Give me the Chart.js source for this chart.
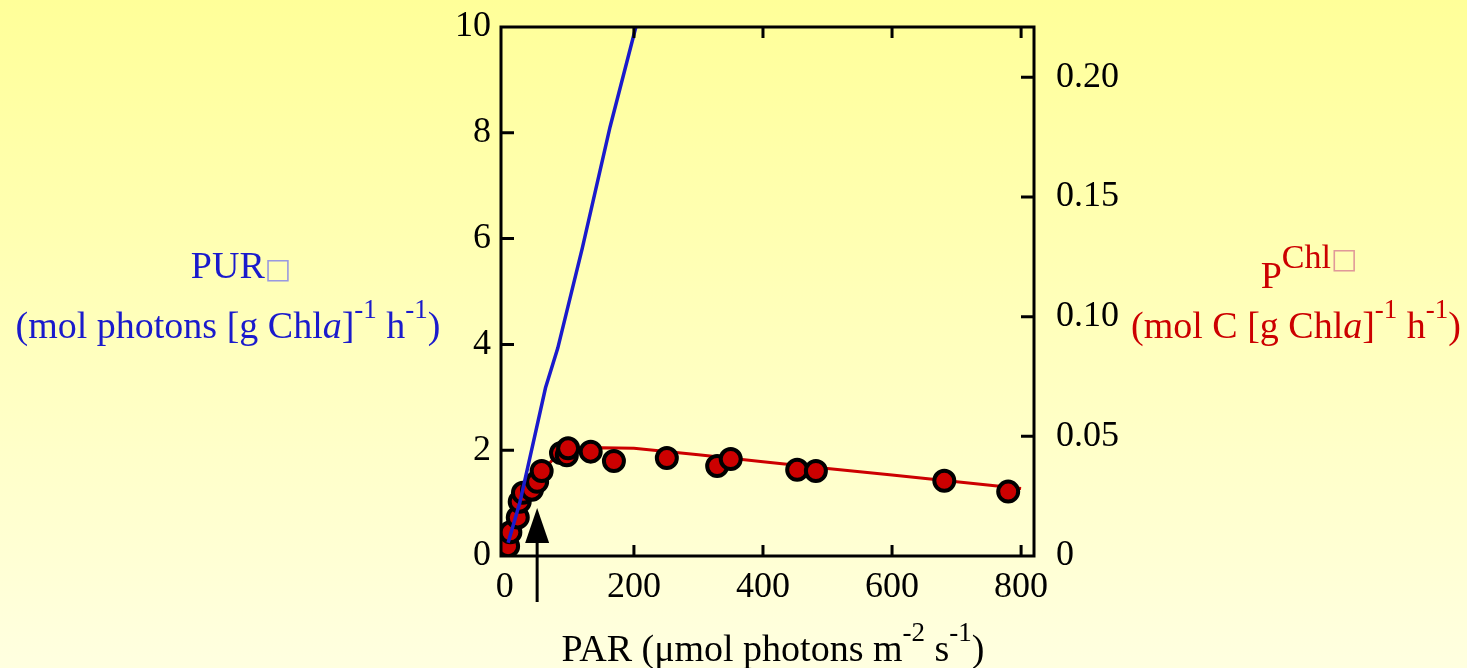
<!DOCTYPE html>
<html>
<head>
<meta charset="utf-8">
<script src="https://cdn.jsdelivr.net/npm/chart.js@4.4.1/dist/chart.umd.min.js"></script>
<style>
  html, body { margin: 0; padding: 0; }
  body { width: 1467px; height: 668px; background: linear-gradient(#FFFF99, #FFFFE0); overflow: hidden; }
  canvas { display: block; }
</style>
</head>
<body>
<canvas id="grafico" width="1467" height="668"></canvas>
<script>
// dados
const purX = [5, 23, 46, 63, 82, 120, 163, 203];
const purY = [0.25, 1.0, 2.25, 3.18, 3.93, 5.82, 8.11, 10];

const parX = [5, 8.5, 20, 23, 28, 42, 50, 57, 87, 96, 98, 133, 169, 251, 329, 350, 453, 482, 681, 780];
const pChl = [0.0041, 0.0099, 0.0161, 0.0227, 0.0264, 0.0277, 0.031, 0.0355, 0.043, 0.0421, 0.045, 0.0436, 0.0397, 0.0409, 0.0376, 0.0405, 0.036, 0.0355, 0.0314, 0.0269];

const fitX = [0, 20, 40, 60, 80, 100, 150, 200, 300, 400, 500, 600, 700, 800];
const fitY = [0, 0.015, 0.027, 0.036, 0.042, 0.0445, 0.0452, 0.045, 0.0423, 0.0394, 0.0366, 0.0338, 0.031, 0.0282];

const xTicks = [0, 200, 400, 600, 800];
const leftTicks = [0, 2, 4, 6, 8, 10];
const rightTicks = [0, 0.05, 0.10, 0.15, 0.20];
const arrowAt = 50; // Ik

const azul = '#1A1ACC';
const vermelho = '#CC0000';
const serif = "'Liberation Serif', 'Times New Roman', serif";

function pontos(xs, ys) {
    return xs.map((x, i) => ({ x: x, y: ys[i] }));
}

// escreve texto com sobrescritos e itálico
function textoRico(ctx, partes, cx, y) {
    let total = 0;
    partes.forEach(p => {
        ctx.font = (p.italic ? 'italic ' : '') + p.size + 'px ' + (p.font || serif);
        p.w = ctx.measureText(p.t).width;
        total += p.w;
    });
    let x = cx - total / 2;
    ctx.textAlign = 'left';
    ctx.textBaseline = 'alphabetic';
    partes.forEach(p => {
        ctx.font = (p.italic ? 'italic ' : '') + p.size + 'px ' + (p.font || serif);
        ctx.fillStyle = p.color;
        ctx.fillText(p.t, x, y - (p.up || 0));
        x += p.w;
    });
}

// largura fixa dos eixos, sem folga extra para os rótulos
function fixa(w, h) {
    return s => {
        if (w) s.width = w;
        if (h) s.height = h;
        s.paddingTop = 0; s.paddingBottom = 0;
        s.paddingLeft = 0; s.paddingRight = 0;
    };
}

const moldura = {
    id: 'moldura',
    afterDatasetsDraw(chart) {
        const ctx = chart.ctx;
        const a = chart.chartArea;
        const sx = chart.scales.x, yl = chart.scales.y, yr = chart.scales.y1;
        ctx.save();
        ctx.strokeStyle = '#000';
        ctx.lineWidth = 3;
        ctx.strokeRect(a.left, a.top, a.right - a.left, a.bottom - a.top);
        ctx.beginPath();
        xTicks.slice(1).forEach(v => {
            const px = sx.getPixelForValue(v);
            ctx.moveTo(px, a.bottom); ctx.lineTo(px, a.bottom - 11);
            ctx.moveTo(px, a.top); ctx.lineTo(px, a.top + 11);
        });
        leftTicks.slice(1, -1).forEach(v => {
            const py = yl.getPixelForValue(v);
            ctx.moveTo(a.left, py); ctx.lineTo(a.left + 13, py);
        });
        rightTicks.slice(1).forEach(v => {
            const py = yr.getPixelForValue(v);
            ctx.moveTo(a.right, py); ctx.lineTo(a.right - 13, py);
        });
        ctx.stroke();
        ctx.restore();
    },
    afterDraw(chart) {
        const ctx = chart.ctx;
        const a = chart.chartArea;
        const ax = chart.scales.x.getPixelForValue(arrowAt);
        ctx.save();
        // seta
        ctx.strokeStyle = '#000';
        ctx.fillStyle = '#000';
        ctx.lineWidth = 3;
        ctx.beginPath();
        ctx.moveTo(ax, a.bottom - 20);
        ctx.lineTo(ax, a.bottom + 46);
        ctx.stroke();
        ctx.beginPath();
        ctx.moveTo(ax, a.bottom - 48);
        ctx.lineTo(ax - 12, a.bottom - 13);
        ctx.lineTo(ax + 12, a.bottom - 13);
        ctx.closePath();
        ctx.fill();

        // títulos dos eixos
        const caixa = "'DejaVu Sans', sans-serif";
        textoRico(ctx, [
            { t: 'PUR', size: 38, color: azul },
            { t: '\u25A1', size: 28, color: '#9999E0', font: caixa }
        ], 241, 278);
        textoRico(ctx, [
            { t: '(mol photons [g Chl', size: 38, color: azul },
            { t: 'a', size: 38, color: azul, italic: true },
            { t: ']', size: 38, color: azul },
            { t: '-1', size: 27, color: azul, up: 20 },
            { t: ' h', size: 38, color: azul },
            { t: '-1', size: 27, color: azul, up: 20 },
            { t: ')', size: 38, color: azul }
        ], 228, 338);
        textoRico(ctx, [
            { t: 'P', size: 38, color: vermelho },
            { t: 'Chl', size: 34, color: vermelho, up: 20 },
            { t: '\u25A1', size: 28, color: '#E09999', font: caixa, up: 20 }
        ], 1309, 288);
        textoRico(ctx, [
            { t: '(mol C [g Chl', size: 38, color: vermelho },
            { t: 'a', size: 38, color: vermelho, italic: true },
            { t: ']', size: 38, color: vermelho },
            { t: '-1', size: 27, color: vermelho, up: 20 },
            { t: ' h', size: 38, color: vermelho },
            { t: '-1', size: 27, color: vermelho, up: 20 },
            { t: ')', size: 38, color: vermelho }
        ], 1296, 338);
        textoRico(ctx, [
            { t: 'PAR (\u03BCmol photons m', size: 38, color: '#000' },
            { t: '-2', size: 27, color: '#000', up: 20 },
            { t: ' s', size: 38, color: '#000' },
            { t: '-1', size: 27, color: '#000', up: 20 },
            { t: ')', size: 38, color: '#000' }
        ], 773, 661);
        ctx.restore();
    }
};

function createChart() {
    const ctx = document.getElementById('grafico').getContext('2d');
    new Chart(ctx, {
        type: 'scatter',
        data: {
            datasets: [
                {
                    label: 'PUR',
                    data: pontos(purX, purY),
                    showLine: true,
                    borderColor: azul,
                    borderWidth: 3.5,
                    pointRadius: 0,
                    yAxisID: 'y'
                },
                {
                    label: 'PChl',
                    data: pontos(parX, pChl),
                    showLine: false,
                    backgroundColor: vermelho,
                    borderColor: '#000',
                    borderWidth: 4,
                    pointRadius: 10,
                    yAxisID: 'y1'
                },
                {
                    label: 'ajuste',
                    data: pontos(fitX, fitY),
                    showLine: true,
                    borderColor: vermelho,
                    borderWidth: 3,
                    pointRadius: 0,
                    yAxisID: 'y1'
                }
            ]
        },
        options: {
            responsive: false,
            animation: false,
            devicePixelRatio: 1,
            layout: { padding: { top: 27, left: 0, right: 0, bottom: 0 } },
            plugins: {
                legend: { display: false },
                tooltip: { enabled: false }
            },
            scales: {
                x: {
                    type: 'linear',
                    min: -6,
                    max: 820,
                    afterBuildTicks: s => { s.ticks = xTicks.map(v => ({ value: v })); },
                    afterFit: fixa(0, 112),
                    grid: { display: false, drawTicks: false },
                    border: { display: false },
                    ticks: {
                        padding: 10,
                        maxRotation: 0,
                        color: '#000',
                        font: { family: serif, size: 36 }
                    }
                },
                y: {
                    position: 'left',
                    min: 0,
                    max: 10,
                    afterBuildTicks: s => { s.ticks = leftTicks.map(v => ({ value: v })); },
                    afterFit: fixa(501, 0),
                    grid: { display: false, drawTicks: false },
                    border: { display: false },
                    ticks: {
                        padding: 10,
                        color: '#000',
                        font: { family: serif, size: 36 }
                    }
                },
                y1: {
                    position: 'right',
                    min: 0,
                    max: 0.221,
                    afterBuildTicks: s => { s.ticks = rightTicks.map(v => ({ value: v })); },
                    afterFit: fixa(433, 0),
                    grid: { display: false, drawTicks: false },
                    border: { display: false },
                    ticks: {
                        padding: 22,
                        color: '#000',
                        font: { family: serif, size: 36 },
                        callback: v => (v === 0 ? '0' : v.toFixed(2))
                    }
                }
            }
        },
        plugins: [moldura]
    });
}

window.onload = createChart;
</script>
</body>
</html>
